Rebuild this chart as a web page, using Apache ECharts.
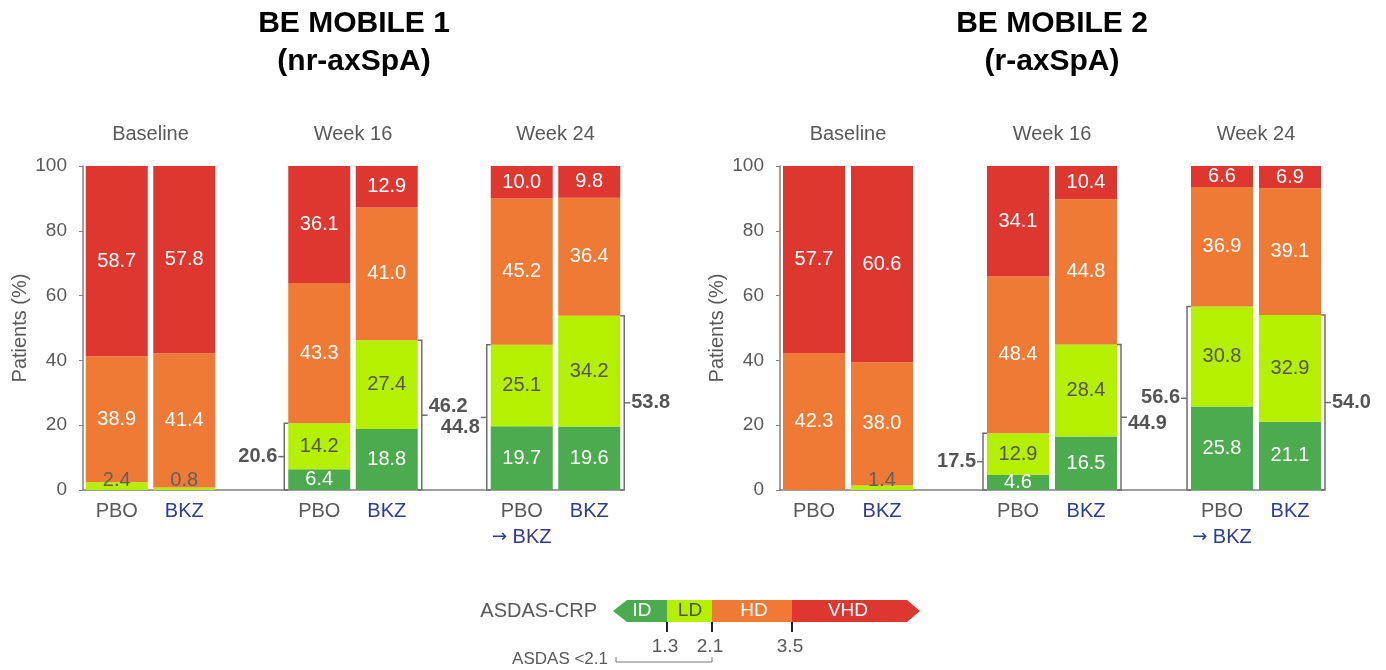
<!DOCTYPE html>
<html>
<head>
<meta charset="utf-8">
<title>BE MOBILE 1 / 2 - ASDAS-CRP</title>
<script src="https://cdn.jsdelivr.net/npm/echarts@6/dist/echarts.min.js"></script>
<style>
  html, body { margin: 0; padding: 0; background: #fff; }
  #chart { width: 1386px; height: 670px; }
</style>
</head>
<body>
<div id="chart"></div>
<script>
// slots on each x axis: two arms per visit, an empty slot between visits
const slots = ['BL-PBO', 'BL-BKZ', 'gap1', 'W16-PBO', 'W16-BKZ', 'gap2', 'W24-PBO', 'W24-BKZ'];
const slotLabels = ['PBO', 'BKZ', '', 'PBO', 'BKZ', '', 'PBO\n→ BKZ', 'BKZ'];
const groupNames = ['Baseline', 'Week 16', 'Week 24'];
const groupStart = [0, 3, 6];
const studyTitles = ['BE MOBILE 1', 'BE MOBILE 2'];
const studySubtitles = ['(nr-axSpA)', '(r-axSpA)'];

// BE MOBILE 1 (nr-axSpA), % patients
const id1 = [0, 0, null, 6.4, 18.8, null, 19.7, 19.6];
const ld1 = [2.4, 0.8, null, 14.2, 27.4, null, 25.1, 34.2];
const hd1 = [38.9, 41.4, null, 43.3, 41.0, null, 45.2, 36.4];
const vhd1 = [58.7, 57.8, null, 36.1, 12.9, null, 10.0, 9.8];

// BE MOBILE 2 (r-axSpA), % patients
const id2 = [0, 0, null, 4.6, 16.5, null, 25.8, 21.1];
const ld2 = [0, 1.4, null, 12.9, 28.4, null, 30.8, 32.9];
const hd2 = [42.3, 38.0, null, 48.4, 44.8, null, 36.9, 39.1];
const vhd2 = [57.7, 60.6, null, 34.1, 10.4, null, 6.6, 6.9];

// ASDAS <2.1 (ID + LD) totals shown with brackets
const bracketSlots = [3, 4, 6, 7];
const bracketSides = [-1, 1, -1, 1];
const resp1 = [20.6, 46.2, 44.8, 53.8];
const resp2 = [17.5, 44.9, 56.6, 54.0];

// legend scale
const levelNames = ['ID', 'LD', 'HD', 'VHD'];
const cutoffs = ['1.3', '2.1', '3.5'];

const levelColors = ['#4caa4f', '#b4f000', '#ef7a35', '#dd3730'];
const labelColors = ['#ffffff', '#555555', '#ffffff', '#ffffff'];
const FONT = '"Liberation Sans", Arial, sans-serif';
const GRAY = '#595959';
const BLUE = '#2e3c92';
const BAR_W = 62;
// small vertical nudges so overlapping bracket labels stay readable
const bracketShift = [[0, -9, 10, 0], [0, 6, -1, 0]];

const chart = echarts.init(document.getElementById('chart'));

function barSeries(gridIdx, level, values) {
  return {
    type: 'bar',
    name: levelNames[level],
    stack: 'g' + gridIdx,
    xAxisIndex: gridIdx,
    yAxisIndex: gridIdx,
    barWidth: BAR_W,
    itemStyle: { color: levelColors[level] },
    data: values.map(v => {
      if (v === null) return null;
      // tiny baseline slices get their label sitting on the axis, in gray
      if (v > 0 && v < 3) {
        return { value: v, label: { position: 'insideBottom', distance: 0, color: '#606060' } };
      }
      return v;
    }),
    label: {
      show: true,
      position: 'inside',
      color: labelColors[level],
      fontSize: 20,
      fontFamily: FONT,
      formatter: p => (p.value > 0 ? p.value.toFixed(1) : '')
    }
  };
}

function bracketSeries(gridIdx, totals) {
  return {
    type: 'custom',
    xAxisIndex: gridIdx,
    yAxisIndex: gridIdx,
    clip: false,
    silent: true,
    z: 5,
    data: totals.map((v, i) => [bracketSlots[i], v, bracketSides[i]]),
    renderItem: (params, api) => {
      const side = api.value(2);
      const base = api.coord([api.value(0), 0]);
      const top = api.coord([api.value(0), api.value(1)]);
      const x = base[0] + side * (BAR_W / 2 + 4);
      const yMid = (base[1] + top[1]) / 2;
      const shift = bracketShift[gridIdx][params.dataIndex];
      const stroke = { stroke: '#6e6e6e', lineWidth: 1.5, fill: 'none' };
      return {
        type: 'group',
        children: [
          {
            type: 'polyline',
            shape: { points: [[x - side * 4, top[1]], [x, top[1]], [x, base[1]], [x - side * 4, base[1]]] },
            style: stroke
          },
          {
            type: 'line',
            shape: { x1: x, y1: yMid, x2: x + side * 6, y2: yMid },
            style: stroke
          },
          {
            type: 'text',
            x: x + side * 7,
            y: yMid + shift,
            style: {
              text: api.value(1).toFixed(1),
              align: side < 0 ? 'right' : 'left',
              verticalAlign: 'middle',
              font: 'bold 20px ' + FONT,
              fill: '#555555'
            }
          }
        ]
      };
    }
  };
}

function groupTitleSeries(gridIdx) {
  return {
    type: 'custom',
    xAxisIndex: gridIdx,
    yAxisIndex: gridIdx,
    clip: false,
    silent: true,
    data: groupStart.map(s => [s, 100]),
    renderItem: (params, api) => {
      const a = api.coord([api.value(0), 100]);
      const b = api.coord([api.value(0) + 1, 100]);
      return {
        type: 'text',
        x: (a[0] + b[0]) / 2,
        y: a[1] - 32,
        style: {
          text: groupNames[params.dataIndex],
          align: 'center',
          verticalAlign: 'middle',
          font: '20px ' + FONT,
          fill: GRAY
        }
      };
    }
  };
}

function xAxis(gridIdx) {
  return {
    type: 'category',
    gridIndex: gridIdx,
    data: slots,
    axisLine: { lineStyle: { color: '#808080', width: 1.5 } },
    axisTick: { show: false },
    axisLabel: {
      interval: 0,
      margin: 8,
      fontFamily: FONT,
      fontSize: 20,
      lineHeight: 26,
      formatter: (v, i) => {
        const parts = slotLabels[i].split('\n');
        const first = parts[0] === 'BKZ' ? '{b|BKZ}' : parts[0];
        if (parts.length > 1) {
          const second = parts[1].split(' ');
          return first + '\n{arr|' + second[0] + '} {b|' + second[1] + '}';
        }
        return first;
      },
      color: GRAY,
      rich: {
        b: { color: BLUE, fontSize: 20, fontFamily: FONT, lineHeight: 26 },
        arr: { color: BLUE, fontSize: 18, fontFamily: '"DejaVu Sans", sans-serif', lineHeight: 26 }
      }
    }
  };
}

function yAxis(gridIdx) {
  return {
    type: 'value',
    gridIndex: gridIdx,
    min: 0,
    max: 100,
    interval: 20,
    name: 'Patients (%)',
    nameLocation: 'middle',
    nameGap: 53,
    nameTextStyle: { color: GRAY, fontSize: 20, fontFamily: FONT },
    axisLine: { show: true, lineStyle: { color: '#808080', width: 1.5 } },
    axisTick: { show: true, length: 4, lineStyle: { color: '#808080' } },
    splitLine: { show: false },
    axisLabel: { color: GRAY, fontSize: 19, fontFamily: FONT, margin: 16 }
  };
}

const graphics = [];
const titleX = [354, 1052];
studyTitles.forEach((t, i) => {
  graphics.push({
    type: 'text', x: titleX[i], y: 24,
    style: { text: t, align: 'center', verticalAlign: 'middle', font: 'bold 30px ' + FONT, fill: '#000' }
  });
  graphics.push({
    type: 'text', x: titleX[i], y: 62,
    style: { text: studySubtitles[i], align: 'center', verticalAlign: 'middle', font: 'bold 30px ' + FONT, fill: '#000' }
  });
});

// ASDAS-CRP scale at the bottom
const LY0 = 600, LY1 = 622, LMID = 611;
const segX = [613, 667, 712, 792, 920];
graphics.push({
  type: 'text', x: 597, y: LMID,
  style: { text: 'ASDAS-CRP', align: 'right', verticalAlign: 'middle', font: '20px ' + FONT, fill: GRAY }
});
graphics.push({
  type: 'polygon',
  shape: { points: [[segX[0], LMID], [segX[0] + 14, LY0], [segX[1], LY0], [segX[1], LY1], [segX[0] + 14, LY1]] },
  style: { fill: levelColors[0] }
});
graphics.push({ type: 'rect', shape: { x: segX[1], y: LY0, width: segX[2] - segX[1], height: LY1 - LY0 }, style: { fill: levelColors[1] } });
graphics.push({ type: 'rect', shape: { x: segX[2], y: LY0, width: segX[3] - segX[2], height: LY1 - LY0 }, style: { fill: levelColors[2] } });
graphics.push({
  type: 'polygon',
  shape: { points: [[segX[3], LY0], [segX[4] - 13, LY0], [segX[4], LMID], [segX[4] - 13, LY1], [segX[3], LY1]] },
  style: { fill: levelColors[3] }
});
const levelTextX = [642, 690, 754, 848];
levelNames.forEach((n, i) => {
  graphics.push({
    type: 'text', x: levelTextX[i], y: LMID,
    style: { text: n, align: 'center', verticalAlign: 'middle', font: '19px ' + FONT, fill: labelColors[i] === '#555555' ? '#505050' : '#fff' }
  });
});
const cutX = [segX[1], segX[2], segX[3]];
cutoffs.forEach((c, i) => {
  graphics.push({ type: 'line', shape: { x1: cutX[i], y1: LY1, x2: cutX[i], y2: 632 }, style: { stroke: '#222', lineWidth: 2 } });
  graphics.push({
    type: 'text', x: cutX[i] - 2, y: 647,
    style: { text: c, align: 'center', verticalAlign: 'middle', font: '19px ' + FONT, fill: GRAY }
  });
});
graphics.push({
  type: 'text', x: 608, y: 659,
  style: { text: 'ASDAS <2.1', align: 'right', verticalAlign: 'middle', font: '17px ' + FONT, fill: GRAY }
});
graphics.push({
  type: 'polyline',
  shape: { points: [[616, 657], [616, 662], [712, 662], [712, 657]] },
  style: { stroke: '#777', lineWidth: 1, fill: 'none' }
});

const option = {
  animation: false,
  textStyle: { fontFamily: FONT },
  grid: [
    { left: 83, top: 166, width: 540, height: 324 },
    { left: 780, top: 166, width: 544, height: 324 }
  ],
  xAxis: [xAxis(0), xAxis(1)],
  yAxis: [yAxis(0), yAxis(1)],
  series: [
    barSeries(0, 0, id1), barSeries(0, 1, ld1), barSeries(0, 2, hd1), barSeries(0, 3, vhd1),
    barSeries(1, 0, id2), barSeries(1, 1, ld2), barSeries(1, 2, hd2), barSeries(1, 3, vhd2),
    bracketSeries(0, resp1), bracketSeries(1, resp2),
    groupTitleSeries(0), groupTitleSeries(1)
  ],
  graphic: graphics
};

chart.setOption(option);
</script>
</body>
</html>
